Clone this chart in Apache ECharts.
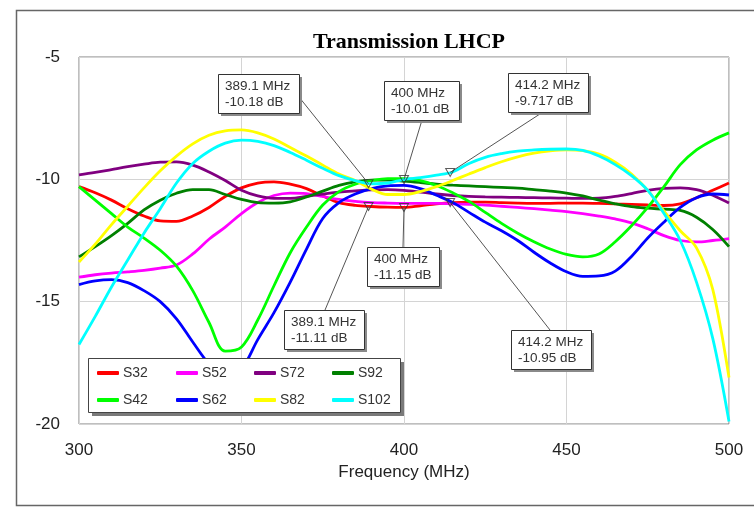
<!DOCTYPE html>
<html>
<head>
<meta charset="utf-8">
<title>Transmission LHCP</title>
<script src="https://cdn.jsdelivr.net/npm/echarts@6/dist/echarts.min.js"></script>
<style>
  html, body { margin: 0; padding: 0; background: #ffffff; }
  #chart { width: 754px; height: 508px; }
</style>
</head>
<body>
<div id="chart"></div>
<script>
// Frequency sweep (MHz), shared by all traces
const freqMHz = [300, 305, 310, 315, 320, 325, 330, 335, 340, 345, 350, 355, 360, 365, 370, 375, 380, 385, 390, 395,
                 400, 405, 410, 415, 420, 425, 430, 435, 440, 445, 450, 455, 460, 465, 470, 475, 480, 485, 490, 495, 500];

// Transmission (dB) per port pair
const s32 = [-10.30, -10.55, -10.85, -11.20, -11.50, -11.70, -11.72, -11.50, -11.15, -10.70, -10.35, -10.15, -10.10, -10.20, -10.38, -10.68, -10.95, -11.06, -11.11, -11.14,
             -11.15, -11.08, -11.00, -10.95, -10.93, -10.93, -10.95, -10.97, -10.98, -10.98, -10.97, -10.97, -10.98, -11.00, -11.02, -11.05, -11.07, -11.00, -10.75, -10.45, -10.15];
const s52 = [-14.00, -13.90, -13.83, -13.78, -13.72, -13.63, -13.50, -13.05, -12.45, -11.95, -11.40, -10.95, -10.66, -10.56, -10.58, -10.70, -10.82, -10.90, -10.95, -10.97,
             -10.98, -10.98, -10.98, -11.00, -11.02, -11.05, -11.10, -11.15, -11.20, -11.26, -11.32, -11.40, -11.50, -11.62, -11.78, -12.02, -12.30, -12.50, -12.56, -12.50, -12.42];
const s72 = [-9.82, -9.72, -9.60, -9.48, -9.38, -9.30, -9.29, -9.42, -9.70, -10.05, -10.45, -10.68, -10.78, -10.78, -10.70, -10.60, -10.52, -10.47, -10.43, -10.42,
             -10.45, -10.52, -10.60, -10.66, -10.70, -10.72, -10.73, -10.74, -10.75, -10.76, -10.77, -10.78, -10.77, -10.70, -10.58, -10.45, -10.37, -10.35, -10.42, -10.65, -10.97];
const s92 = [-13.17, -12.75, -12.30, -11.80, -11.25, -10.85, -10.57, -10.42, -10.42, -10.62, -10.82, -10.95, -10.97, -10.92, -10.72, -10.48, -10.25, -10.10, -10.03, -10.03,
             -10.07, -10.13, -10.20, -10.24, -10.27, -10.30, -10.33, -10.36, -10.42, -10.48, -10.56, -10.68, -10.85, -11.00, -11.12, -11.18, -11.22, -11.27, -11.55, -12.05, -12.75];
const s42 = [-10.30, -10.85, -11.40, -11.95, -12.40, -12.90, -13.55, -14.55, -15.85, -17.02, -16.85, -15.75, -14.35, -13.00, -11.95, -11.05, -10.50, -10.20, -10.05, -9.97,
             -9.97, -10.05, -10.25, -10.55, -10.90, -11.35, -11.80, -12.20, -12.55, -12.85, -13.07, -13.17, -13.05, -12.55, -11.90, -11.15, -10.30, -9.40, -8.80, -8.40, -8.10];
const s62 = [-14.30, -14.15, -14.10, -14.22, -14.55, -15.00, -15.70, -16.65, -17.55, -18.15, -17.75, -16.55, -15.45, -14.20, -12.85, -11.60, -10.95, -10.60, -10.38, -10.27,
             -10.25, -10.38, -10.65, -10.95, -11.35, -11.75, -12.10, -12.50, -12.98, -13.42, -13.78, -13.97, -13.95, -13.75, -13.15, -12.40, -11.75, -11.15, -10.75, -10.60, -10.64];
const s82 = [-13.38, -12.65, -11.85, -11.10, -10.35, -9.65, -9.05, -8.55, -8.20, -8.02, -7.98, -8.10, -8.35, -8.70, -9.05, -9.42, -9.78, -10.05, -10.40, -10.62,
             -10.62, -10.50, -10.30, -10.05, -9.78, -9.52, -9.28, -9.08, -8.93, -8.84, -8.80, -8.83, -8.97, -9.30, -9.78, -10.45, -11.30, -12.10, -12.80, -14.50, -18.10];
const s102 = [-16.75, -15.60, -14.40, -13.30, -12.20, -11.20, -10.15, -9.35, -8.85, -8.52, -8.40, -8.45, -8.62, -8.90, -9.22, -9.55, -9.85, -10.05, -10.18, -10.15,
              -10.01, -9.93, -9.83, -9.70, -9.35, -9.10, -8.95, -8.85, -8.80, -8.77, -8.76, -8.82, -9.05, -9.40, -9.85, -10.45, -11.40, -12.50, -14.20, -16.50, -19.90];

const seriesNames = ['S32', 'S52', 'S72', 'S92', 'S42', 'S62', 'S82', 'S102'];
const seriesValues = [s32, s52, s72, s92, s42, s62, s82, s102];
const seriesColors = ['#ff0000', '#ff00ff', '#800080', '#008000', '#00ff00', '#0000ff', '#ffff00', '#00ffff'];

// Marker readouts (MHz, dB)
const markFreq = [389.1, 400, 414.2, 389.1, 400, 414.2];
const markDb = [-10.18, -10.01, -9.717, -11.11, -11.15, -10.95];

// Readout box placement: [left, top, width] and leader anchor offset inside the box
const noteBoxes = [[218, 74, 81], [384, 81, 75], [508, 73, 80], [284, 310, 80], [367, 247, 72], [511, 330, 80]];
const noteAnchors = [[81, 23], [38, 39], [35, 39], [41, 0], [36, 0], [39, 0]];
const NOTE_H = 39;

const FONT = "'Liberation Sans', Arial, Helvetica, sans-serif";
const TEXT = '#222';

const chart = echarts.init(document.getElementById('chart'), null, { renderer: 'canvas' });

// Two legend rows of four fixed-width columns
const legendCols = [97, 176, 254, 332];
const legendRows = [366, 393];
const legends = seriesNames.map((name, i) => ({
  data: [name],
  left: legendCols[i % 4],
  top: legendRows[Math.floor(i / 4)],
  icon: 'roundRect',
  itemWidth: 22,
  itemHeight: 4,
  itemGap: 0,
  padding: 0,
  z: 10,
  selectedMode: false,
  textStyle: { fontFamily: FONT, fontSize: 14, color: '#333', padding: [0, 0, 0, -1] }
}));

const lineSeries = seriesNames.map((name, i) => ({
  type: 'line',
  name: name,
  data: freqMHz.map((f, k) => [f, seriesValues[i][k]]),
  smooth: 0.35,
  symbol: 'none',
  showSymbol: false,
  lineStyle: { width: 2.8, color: seriesColors[i] },
  itemStyle: { color: seriesColors[i] },
  z: 2,
  silent: true
}));

const markerSeries = {
  type: 'scatter',
  name: 'markers',
  data: markFreq.map((f, i) => [f, markDb[i]]),
  symbol: 'triangle',
  symbolRotate: 180,
  symbolSize: [9, 8],
  itemStyle: { color: 'rgba(255,255,255,0)', borderColor: '#333', borderWidth: 1 },
  z: 14,
  silent: true
};

chart.setOption({
  animation: false,
  backgroundColor: '#ffffff',
  title: {
    text: 'Transmission LHCP',
    left: 404,
    top: 26,
    textAlign: 'center',
    textStyle: { fontFamily: "'Liberation Serif', 'Times New Roman', serif", fontWeight: 'bold', fontSize: 22, color: '#000' }
  },
  grid: { left: 79, top: 57, width: 650, height: 367, show: true, borderColor: '#7f7f7f', borderWidth: 1, containLabel: false },
  xAxis: {
    type: 'value', min: 300, max: 500, interval: 50,
    name: 'Frequency (MHz)', nameLocation: 'middle', nameGap: 37,
    nameTextStyle: { fontFamily: FONT, fontSize: 17, color: TEXT },
    axisLine: { show: false }, axisTick: { show: false },
    axisLabel: { margin: 18, fontFamily: FONT, fontSize: 17, color: TEXT },
    splitLine: { show: true, lineStyle: { color: '#d4d4d4', width: 1 } }
  },
  yAxis: {
    type: 'value', min: -20, max: -5, interval: 5,
    axisLine: { show: false }, axisTick: { show: false },
    axisLabel: { margin: 19, fontFamily: FONT, fontSize: 17, color: TEXT },
    splitLine: { show: true, lineStyle: { color: '#d4d4d4', width: 1 } }
  },
  legend: legends,
  series: lineSeries.concat([markerSeries])
});

// Frame, legend panel and marker readouts
const elements = [
  { type: 'rect', silent: true, z: 1, shape: { x: 16.5, y: 10.5, width: 760, height: 495 }, style: { fill: 'none', stroke: '#666', lineWidth: 1.5 } },
  { type: 'rect', silent: true, z: 8, shape: { x: 92, y: 362, width: 312, height: 54 }, style: { fill: '#7a7a7a' } },
  { type: 'rect', silent: true, z: 9, shape: { x: 88.5, y: 358.5, width: 312, height: 54 }, style: { fill: '#ffffff', stroke: '#444', lineWidth: 1 } }
];

markFreq.forEach((f, i) => {
  const p = chart.convertToPixel({ xAxisIndex: 0, yAxisIndex: 0 }, [f, markDb[i]]);
  const [bx, by, bw] = noteBoxes[i];
  const [ax, ay] = noteAnchors[i];
  elements.push(
    { type: 'line', silent: true, z: 11, shape: { x1: bx + ax, y1: by + ay, x2: p[0], y2: p[1] }, style: { stroke: '#555', lineWidth: 1 } },
    { type: 'rect', silent: true, z: 12, shape: { x: bx + 3, y: by + 3, width: bw, height: NOTE_H }, style: { fill: '#8a8a8a' } },
    { type: 'rect', silent: true, z: 13, shape: { x: bx + 0.5, y: by + 0.5, width: bw, height: NOTE_H }, style: { fill: '#ffffff', stroke: '#333', lineWidth: 1 } },
    { type: 'text', silent: true, z: 13, x: bx + 7, y: by + 4,
      style: { text: f + ' MHz\n' + markDb[i] + ' dB', fontFamily: FONT, fontSize: 13.5, lineHeight: 16, fill: '#333', align: 'left', verticalAlign: 'top' } }
  );
});

chart.setOption({ graphic: { elements: elements } });
</script>
</body>
</html>
